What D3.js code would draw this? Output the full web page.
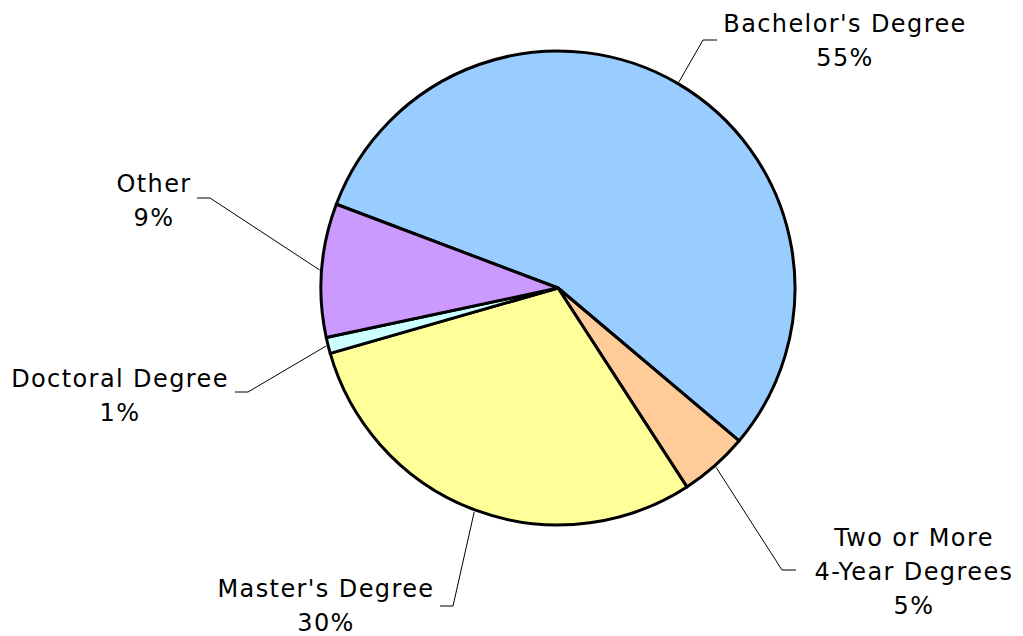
<!DOCTYPE html>
<html>
<head>
  <meta charset="utf-8">
  <title>Degrees</title>
  <script src="https://cdnjs.cloudflare.com/ajax/libs/d3/7.8.5/d3.min.js"></script>
  <style>
    html, body { margin: 0; padding: 0; background: #fff; }
    svg text { font-family: "DejaVu Sans", sans-serif; font-size: 24px; letter-spacing: 1.4px; fill: #000; }
  </style>
</head>
<body>
  <svg id="chart" width="1023" height="636"></svg>
  <script>
    // slices in clockwise order, starting with Bachelor's
    const categories = ["Bachelor's Degree", 'Two or More\n4-Year Degrees', "Master's Degree", 'Doctoral Degree', 'Other']
    const values = [55.4, 4.7, 29.7, 1.1, 9.1]
    const colors = ['#99CCFF', '#FFCC99', '#FFFF99', '#CCFFFF', '#CC99FF']

    // label placement: text centre x, first baseline y, and the elbow of the leader line
    const labelPos = [
      { x: 845, y: 32, ex: 703, ey: 40, hx: 717 },
      { x: 914, y: 546, ex: 782, ey: 570, hx: 796 },
      { x: 326, y: 597, ex: 453, ey: 606, hx: 440 },
      { x: 120, y: 387, ex: 248, ey: 392, hx: 235 },
      { x: 154, y: 192, ex: 210, ey: 198, hx: 197 }
    ]

    const cx = 558, cy = 288, radius = 237
    const lineH = 34
    const start = -69.3 * Math.PI / 180

    const svg = d3.select('#chart')
    const total = d3.sum(values)

    const pie = d3.pie().sort(null).startAngle(start).endAngle(start + 2 * Math.PI)
    const arcs = pie(values)
    const arc = d3.arc().innerRadius(0).outerRadius(radius)

    const g = svg.append('g').attr('transform', `translate(${cx},${cy})`)

    g.selectAll('path.slice')
      .data(arcs)
      .join('path')
      .attr('class', 'slice')
      .attr('d', arc)
      .attr('fill', (d, i) => colors[i])
      .attr('stroke', '#000')
      .attr('stroke-width', 3)
      .attr('stroke-linejoin', 'round')

    // leader lines
    svg.selectAll('path.leader')
      .data(arcs)
      .join('path')
      .attr('class', 'leader')
      .attr('fill', 'none')
      .attr('stroke', '#000')
      .attr('stroke-width', 1)
      .attr('d', (d, i) => {
        const a = (d.startAngle + d.endAngle) / 2
        const r = radius + 2
        const p = labelPos[i]
        const x0 = cx + r * Math.sin(a), y0 = cy - r * Math.cos(a)
        return d3.line()([[x0, y0], [p.ex, p.ey], [p.hx, p.ey]])
      })

    // labels
    const labels = svg.selectAll('text.label')
      .data(arcs)
      .join('text')
      .attr('class', 'label')
      .attr('text-anchor', 'middle')

    labels.each(function (d, i) {
      const lines = categories[i].split('\n').concat([Math.round(values[i] / total * 100) + '%'])
      const p = labelPos[i]
      d3.select(this).selectAll('tspan')
        .data(lines)
        .join('tspan')
        .attr('x', p.x)
        .attr('y', (t, j) => p.y + j * lineH)
        .text(t => t)
    })
  </script>
</body>
</html>
